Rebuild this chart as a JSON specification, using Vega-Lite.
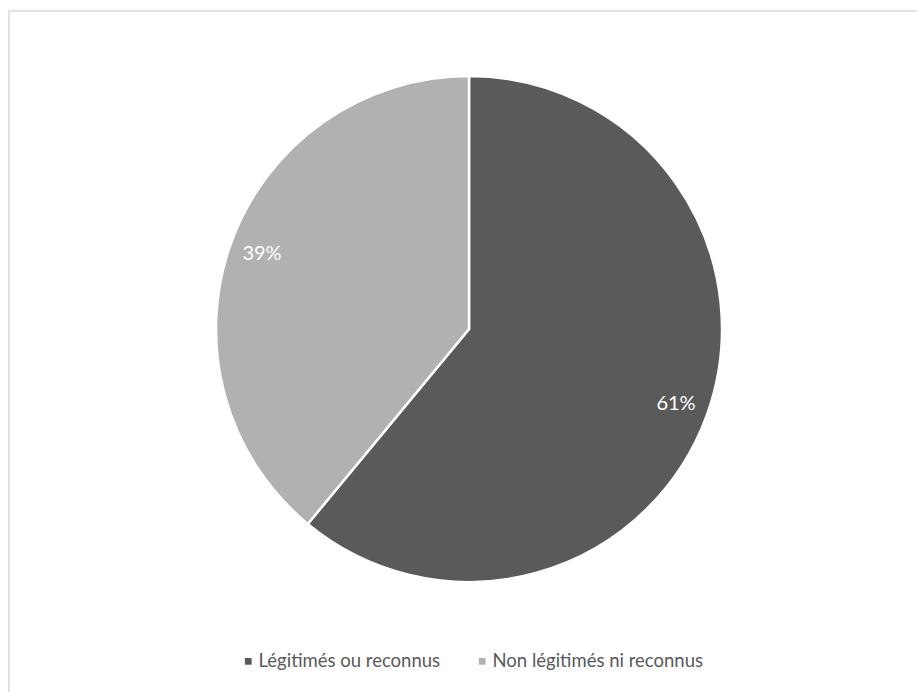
{
  "$schema": "https://vega.github.io/schema/vega-lite/v6.json",
  "autosize": "none",
  "padding": {"left": 9, "top": 11, "right": 0, "bottom": 0},
  "width": 912,
  "height": 685,
  "background": "white",
  "view": {"stroke": "#d9d9d9", "strokeWidth": 1.5},
  "config": {
    "view": {"stroke": "#d9d9d9", "strokeWidth": 1.5},
    "font": "Lato"
  },
  "data": {
    "values": [
      {"categorie": "Légitimés ou reconnus", "part": 61, "label": "61%", "ordre": 1},
      {"categorie": "Non légitimés ni reconnus", "part": 39, "label": "39%", "ordre": 2}
    ]
  },
  "encoding": {
    "theta": {"field": "part", "type": "quantitative", "stack": true},
    "order": {"field": "ordre", "type": "quantitative"}
  },
  "layer": [
    {
      "mark": {
        "type": "arc",
        "outerRadius": 253,
        "stroke": "white",
        "strokeWidth": 2.5,
        "x": {"expr": "width/2 + 4"},
        "y": {"expr": "(height - 49)/2"}
      },
      "encoding": {
        "color": {
          "field": "categorie",
          "type": "nominal",
          "sort": ["Légitimés ou reconnus", "Non légitimés ni reconnus"],
          "scale": {
            "domain": ["Légitimés ou reconnus", "Non légitimés ni reconnus"],
            "range": ["#5a5a5a", "#b1b1b1"]
          },
          "legend": {
            "title": null,
            "orient": "none",
            "direction": "horizontal",
            "legendX": 230,
            "legendY": 641,
            "padding": 0,
            "symbolType": "square",
            "symbolSize": 45,
            "symbolStrokeWidth": 0,
            "labelFont": "Lato",
            "labelFontSize": 18.5,
            "labelColor": "#595959",
            "labelOffset": 1,
            "columnPadding": 32,
            "labelLimit": 400
          }
        }
      }
    },
    {
      "mark": {
        "type": "text",
        "radius": 220,
        "color": "white",
        "fontSize": 20,
        "font": "Lato",
        "x": {"expr": "width/2 + 4"},
        "y": {"expr": "(height - 49)/2"}
      },
      "encoding": {
        "text": {"field": "label", "type": "nominal"}
      }
    }
  ]
}
